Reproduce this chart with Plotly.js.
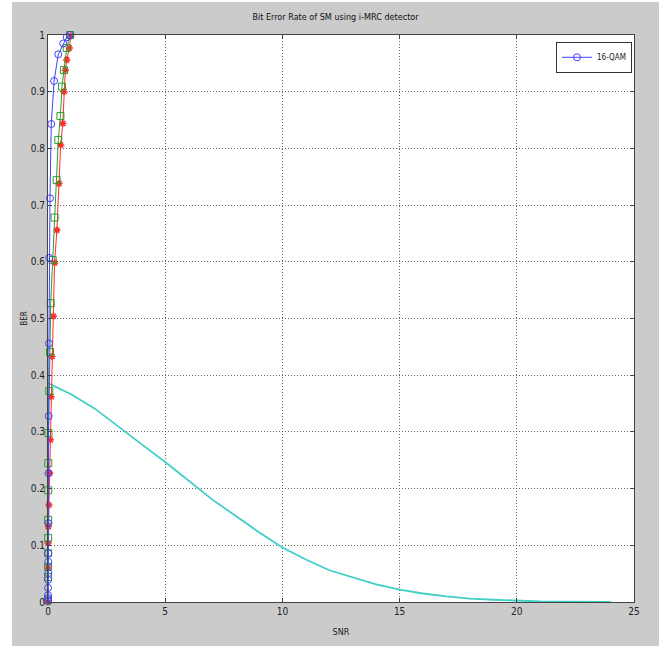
<!DOCTYPE html>
<html>
<head>
<meta charset="utf-8">
<script src="https://cdn.plot.ly/plotly-3.0.1.min.js"></script>
<style>
  html, body { margin: 0; padding: 0; background: #ffffff; width: 665px; height: 646px; overflow: hidden; }
  #chart { position: absolute; left: 12px; top: 2px; width: 647px; height: 644px; }
</style>
</head>
<body>
<div id="chart"></div>
<script>
// ---- data ----
const blueX = [0, 0.001, 0.002, 0.004, 0.006, 0.008, 0.010, 0.012, 0.016, 0.022, 0.030, 0.040, 0.050, 0.085, 0.14, 0.26, 0.44, 0.65, 0.80, 0.94];
const blueY = [0.002, 0.007, 0.012, 0.025, 0.039, 0.051, 0.071, 0.086, 0.139, 0.227, 0.328, 0.456, 0.607, 0.712, 0.843, 0.919, 0.966, 0.985, 0.996, 1.0];

const greenX = [0, 0.002, 0.003, 0.004, 0.005, 0.007, 0.010, 0.013, 0.020, 0.056, 0.085, 0.115, 0.20, 0.28, 0.37, 0.44, 0.53, 0.60, 0.68, 0.80, 0.94];
const greenY = [0.003, 0.044, 0.062, 0.086, 0.113, 0.145, 0.197, 0.245, 0.298, 0.372, 0.441, 0.527, 0.603, 0.678, 0.744, 0.815, 0.857, 0.909, 0.938, 0.977, 1.0];

const redX = [0, 0.003, 0.005, 0.015, 0.04, 0.07, 0.10, 0.13, 0.17, 0.23, 0.28, 0.38, 0.47, 0.54, 0.63, 0.68, 0.74, 0.80, 0.91, 0.97];
const redY = [0.0, 0.06, 0.104, 0.133, 0.171, 0.227, 0.286, 0.362, 0.433, 0.504, 0.598, 0.656, 0.738, 0.806, 0.844, 0.900, 0.938, 0.956, 0.977, 0.998];

const snr = [0, 1, 2, 3, 4, 5, 6, 7, 8, 9, 10, 11, 12, 13, 14, 15, 16, 17, 18, 19, 20, 21, 22, 23, 24];
const ber = [0.386, 0.366, 0.341, 0.309, 0.278, 0.247, 0.214, 0.181, 0.152, 0.123, 0.096, 0.075, 0.056, 0.043, 0.031, 0.022, 0.015, 0.010, 0.006, 0.004, 0.002, 0.001, 0.0005, 0.0002, 0.0001];

const xTicks = [0, 5, 10, 15, 20, 25];
const yTicks = [0, 0.1, 0.2, 0.3, 0.4, 0.5, 0.6, 0.7, 0.8, 0.9, 1];
const yTickText = ['0', '0.1', '0.2', '0.3', '0.4', '0.5', '0.6', '0.7', '0.8', '0.9', '1'];

const FONT = "'Liberation Sans Narrow', 'Arial Narrow', 'DejaVu Sans Condensed', sans-serif";

const traces = [
  { x: snr, y: ber, mode: 'lines', line: { color: '#3fcfc6', width: 1.8 }, showlegend: false, hoverinfo: 'skip' },
  { x: redX, y: redY, mode: 'lines+markers', line: { color: '#ff2a2a', width: 1 },
    marker: { symbol: 'asterisk-open', size: 6, color: '#ff2a2a', line: { color: '#ff2a2a', width: 1.5 } },
    showlegend: false, cliponaxis: false },
  { x: greenX, y: greenY, mode: 'lines+markers', line: { color: '#2a9e2a', width: 1 },
    marker: { symbol: 'square-open', size: 7, color: '#2a9e2a', line: { color: '#2a9e2a', width: 1 } },
    showlegend: false, cliponaxis: false },
  { x: blueX, y: blueY, mode: 'lines+markers', name: '16-QAM', line: { color: '#4040ff', width: 1 },
    marker: { symbol: 'circle-open', size: 7, color: '#4040ff', line: { color: '#4040ff', width: 1 } },
    showlegend: true, cliponaxis: false }
];

const layout = {
  width: 647, height: 644,
  paper_bgcolor: '#cbcbcb',
  plot_bgcolor: '#ffffff',
  margin: { l: 36, r: 25, t: 33, b: 44, pad: 0 },
  font: { family: FONT, size: 10, color: '#222' },
  title: { text: 'Bit Error Rate of SM using i-MRC detector', font: { family: FONT, size: 9, color: '#111' },
           x: 0.5, xanchor: 'center', y: 0.977, yanchor: 'middle' },
  xaxis: {
    range: [0, 25], tickvals: xTicks, ticktext: xTicks.map(String),
    ticks: 'inside', ticklen: 4, tickcolor: '#444',
    showline: true, linecolor: '#444', linewidth: 1, mirror: 'ticks',
    showgrid: true, gridcolor: '#666', griddash: '1px,2px', gridwidth: 1,
    zeroline: false, tickfont: { family: FONT, size: 10, color: '#222' },
    title: { text: 'SNR', font: { family: FONT, size: 9, color: '#222' }, standoff: 12 },
    automargin: false
  },
  yaxis: {
    range: [0, 1], tickvals: yTicks, ticktext: yTickText,
    ticks: 'inside', ticklen: 4, tickcolor: '#444',
    showline: true, linecolor: '#444', linewidth: 1, mirror: 'ticks',
    showgrid: true, gridcolor: '#666', griddash: '1px,2px', gridwidth: 1,
    zeroline: false, tickfont: { family: FONT, size: 10, color: '#222' },
    title: { text: 'BER', font: { family: FONT, size: 8, color: '#222' }, standoff: 1 },
    automargin: false
  },
  legend: {
    x: 0.9966, xanchor: 'right', y: 0.988, yanchor: 'top',
    bgcolor: '#ffffff', bordercolor: '#333', borderwidth: 1,
    font: { family: FONT, size: 8, color: '#222' },
    itemwidth: 30, tracegroupgap: 0
  },
  showlegend: true
};

Plotly.newPlot('chart', traces, layout, { displayModeBar: false, staticPlot: true });
</script>
</body>
</html>
